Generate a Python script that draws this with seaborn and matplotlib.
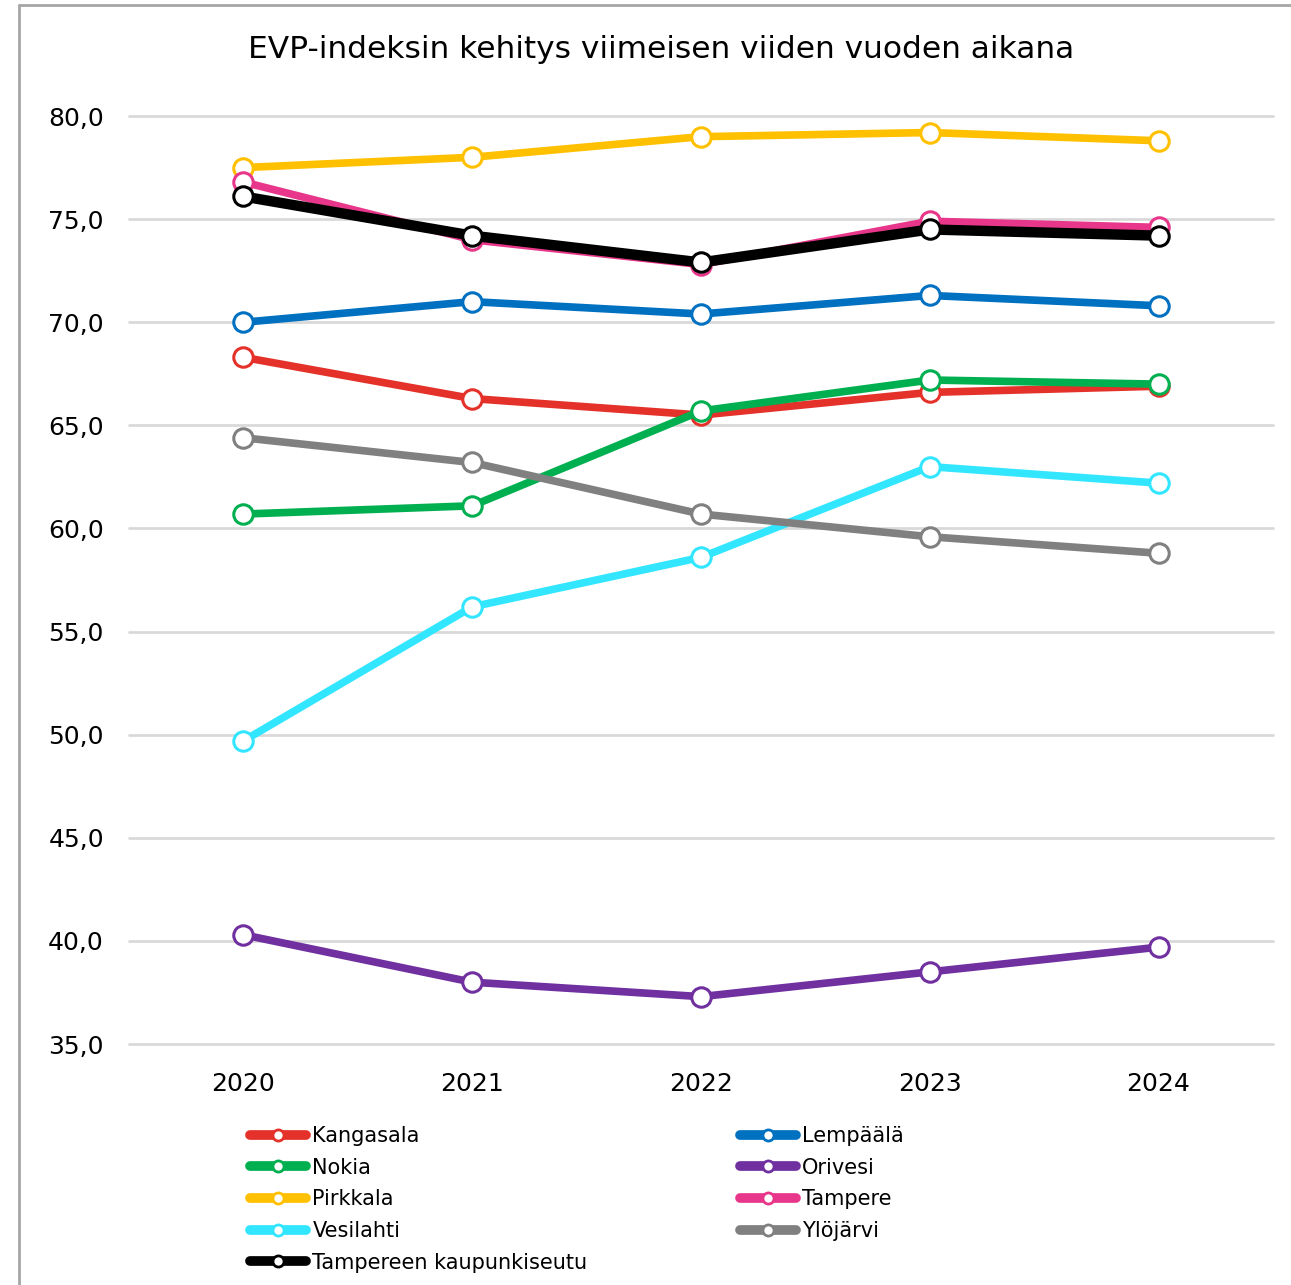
import matplotlib
matplotlib.use("Agg")
import matplotlib.pyplot as plt
from matplotlib.lines import Line2D
import seaborn as sns
import pandas as pd

years = ["2020", "2021", "2022", "2023", "2024"]

kangasala = [68.3, 66.3, 65.5, 66.6, 66.9]
lempaala = [70.0, 71.0, 70.4, 71.3, 70.8]
nokia = [60.7, 61.1, 65.7, 67.2, 67.0]
orivesi = [40.3, 38.0, 37.3, 38.5, 39.7]
pirkkala = [77.5, 78.0, 79.0, 79.2, 78.8]
tampere = [76.8, 74.0, 72.8, 74.9, 74.6]
vesilahti = [49.7, 56.2, 58.6, 63.0, 62.2]
ylojarvi = [64.4, 63.2, 60.7, 59.6, 58.8]
seutu = [76.1, 74.2, 72.9, 74.5, 74.2]

names = ["Kangasala", "Lempäälä", "Nokia", "Orivesi", "Pirkkala",
         "Tampere", "Vesilahti", "Ylöjärvi", "Tampereen kaupunkiseutu"]
values = [kangasala, lempaala, nokia, orivesi, pirkkala,
          tampere, vesilahti, ylojarvi, seutu]
colors = ["#E4322B", "#0070C0", "#00B050", "#7030A0", "#FFC000",
          "#E8378A", "#33E6FF", "#808080", "#000000"]

y_ticks = [35, 40, 45, 50, 55, 60, 65, 70, 75, 80]

sns.set_theme(style="white")
plt.rcParams["font.family"] = ["DejaVu Sans"]
plt.rcParams["text.color"] = "black"

fig = plt.figure(figsize=(12.91, 12.85), dpi=100)
ax = fig.add_axes([0.0999, 0.1875, 0.8861, 0.7222])

for name, vals, col in zip(names, values, colors):
    df = pd.DataFrame({"Vuosi": years, "Indeksi": vals})
    lw = 7.5 if name == "Tampereen kaupunkiseutu" else 5.5
    sns.lineplot(data=df, x="Vuosi", y="Indeksi", ax=ax, color=col,
                 linewidth=lw, marker="o", markersize=14,
                 markerfacecolor="white", markeredgecolor=col,
                 markeredgewidth=2.2, legend=False, zorder=3)

ax.set_xlim(-0.5, 4.5)
ax.set_ylim(35, 80)
ax.set_yticks(y_ticks)
ax.set_yticklabels([f"{v:.1f}".replace(".", ",") for v in y_ticks])
ax.yaxis.grid(True, color="#D9D9D9", linewidth=2)
ax.xaxis.grid(False)
ax.set_axisbelow(True)
for gl in ax.get_ygridlines():
    gl.set_clip_on(False)
for s in ax.spines.values():
    s.set_visible(False)
ax.tick_params(axis="both", length=0, labelsize=18, colors="black")
ax.tick_params(axis="y", pad=18)
ax.tick_params(axis="x", pad=20)
ax.set_xlabel("")
ax.set_ylabel("")

fig.text(661 / 1291, 0.9615, "EVP-indeksin kehitys viimeisen viiden vuoden aikana",
         ha="center", va="center", fontsize=22.5, color="black")

# Legend filled column-wise: left column then right column
order = [0, 2, 4, 6, 8, 1, 3, 5, 7]
handles = [Line2D([0], [0], color=colors[i], linewidth=7, marker="o",
                  markersize=8, markerfacecolor="white",
                  markeredgecolor=colors[i], markeredgewidth=2,
                  solid_capstyle="round") for i in order]
labels = [names[i] for i in order]
leg = fig.legend(handles, labels, loc="upper left",
                 bbox_to_anchor=(250 / 1291, 1 - 1126 / 1285), ncol=2,
                 frameon=False, fontsize=15, handlelength=2.7,
                 handletextpad=0.3, columnspacing=7.3, labelspacing=0.56,
                 borderpad=0, borderaxespad=0)
for t in leg.get_texts():
    t.set_color("black")

# Frame edges of the chart area
fig.add_artist(Line2D([19 / 1291, 19 / 1291], [0, 1 - 5 / 1285],
                      color="#A6A6A6", linewidth=2, transform=fig.transFigure))
fig.add_artist(Line2D([19 / 1291, 1], [1 - 5 / 1285, 1 - 5 / 1285],
                      color="#A6A6A6", linewidth=2, transform=fig.transFigure))

fig.savefig("out.png", dpi=100, facecolor="white")
